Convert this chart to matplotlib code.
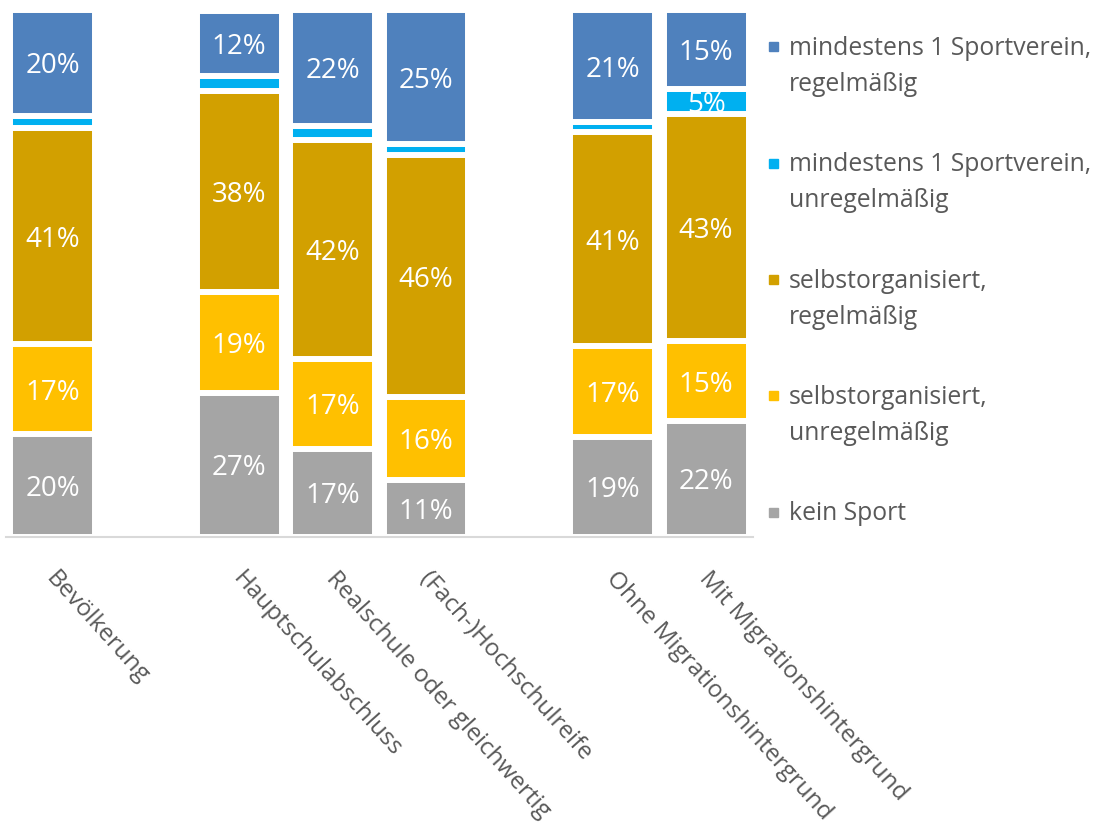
import matplotlib
matplotlib.use("Agg")
import matplotlib.pyplot as plt
from matplotlib.patches import Rectangle
from matplotlib.transforms import ScaledTranslation
import numpy as np

plt.rcParams["font.family"] = ["Open Sans", "DejaVu Sans"]

# categories; group index puts one empty slot between the three groups
categories = ["Bevölkerung", "Hauptschulabschluss", "Realschule oder gleichwertig",
              "(Fach-)Hochschulreife", "Ohne Migrationshintergrund",
              "Mit Migrationshintergrund"]
groups = [0, 1, 1, 1, 2, 2]

# shares in percent, bottom to top of the stack
kein_sport = [19.5, 27.2, 16.7, 10.7, 18.9, 22.0]
selbst_unreg = [17.0, 19.2, 17.1, 15.8, 17.3, 15.1]
selbst_reg = [41.1, 38.2, 41.6, 46.0, 40.6, 43.2]
verein_unreg = [2.4, 2.9, 2.7, 2.1, 1.9, 4.7]
verein_reg = [20.0, 12.4, 21.9, 25.4, 21.3, 15.0]

series_names = ["kein Sport", "selbstorganisiert,\nunregelmäßig",
                "selbstorganisiert,\nregelmäßig",
                "mindestens 1 Sportverein,\nunregelmäßig",
                "mindestens 1 Sportverein,\nregelmäßig"]
series = [kein_sport, selbst_unreg, selbst_reg, verein_unreg, verein_reg]
colors = ["#A5A5A5", "#FFC000", "#D2A000", "#00B0F0", "#4F81BD"]

TEXT = "#595959"
W, H = 1100, 830

fig = plt.figure(figsize=(W / 100, H / 100), dpi=100)
ax = fig.add_axes([5.8 / W, (H - 536.5) / H, 747 / W, 526.2 / H])

x = np.arange(len(categories)) + np.array(groups)
bottom = np.zeros(len(categories))
for vals, col in zip(series, colors):
    vals = np.array(vals)
    bars = ax.bar(x, vals, 0.91, bottom=bottom, color=col, edgecolor="white",
                  linewidth=4.3, zorder=2)
    for rect, v, b in zip(bars, vals, bottom):
        if v >= 4.5:
            t = ax.text(rect.get_x() + rect.get_width() / 2, b + v / 2,
                        f"{v:.0f}%", ha="center", va="center_baseline",
                        color="white", fontsize=20, zorder=3)
            t.set_clip_path(rect)
    bottom += vals

ax.set_xlim(-0.5, x.max() + 0.5)
ax.set_ylim(0, 100)
ax.set_yticks([])
for s in ["left", "right", "top"]:
    ax.spines[s].set_visible(False)
ax.spines["bottom"].set_color("#D9D9D9")
ax.spines["bottom"].set_linewidth(1.5)
ax.spines["bottom"].set_zorder(4)
ax.set_xticks(x, categories, rotation=-48, ha="left", va="top",
              rotation_mode="anchor", color=TEXT, fontsize=17.5)
ax.tick_params(axis="x", length=0, pad=22)
shift = ScaledTranslation(6 / 100, 0, fig.dpi_scale_trans)
for lab in ax.get_xticklabels():
    lab.set_transform(lab.get_transform() + shift)

# legend, top to bottom = top of stack first; one text per line
for i, (name, col) in enumerate(zip(series_names[::-1], colors[::-1])):
    yb = 55 + i * 116.3
    for j, line in enumerate(name.split("\n")):
        fig.text(789 / W, 1 - (yb + 36 * j) / H, line, ha="left",
                 va="baseline", color=TEXT, fontsize=17.8)
    fig.add_artist(Rectangle((769 / W, 1 - (yb - 3.5) / H), 9 / W, 9 / H,
                             transform=fig.transFigure, color=col))

fig.savefig("out.png", dpi=100)
